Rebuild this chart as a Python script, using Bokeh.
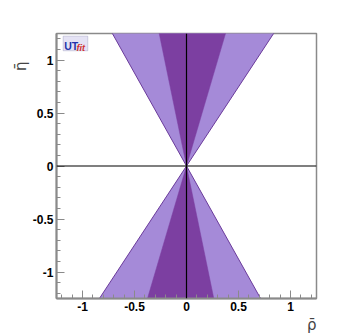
import numpy as np
from bokeh.plotting import figure
from bokeh.models import FixedTicker, Span, Label, BoxAnnotation, ColumnDataSource, Title
from bokeh.embed import file_html
from bokeh.resources import INLINE

# ---- data ----
# wedge boundaries through the origin, expressed as rho/eta ratios
light_ratio = [-0.57, 0.67]
dark_ratio = [-0.21, 0.30]
eta_extent = [2.0, -2.0]          # upper and lower lobes (clipped by plot range)
tick_values = [-1.0, -0.5, 0.0, 0.5, 1.0]
tick_labels = ["-1", "-0.5", "0", "0.5", "1"]
minor_values = [round(-1.2 + 0.1 * i, 1) for i in range(25)]

LIGHT = "#a58ad8"
DARK = "#7c3fa1"
EDGE = "#6a3a9a"
AXIS = "#8a8a8a"


def wedge(ratio):
    xs, ys = [], []
    for e in eta_extent:
        xs.append([0.0, ratio[0] * e, ratio[1] * e])
        ys.append([0.0, e, e])
    return ColumnDataSource(dict(xs=xs, ys=ys))


p = figure(width=343, height=333, x_range=(-1.25, 1.25), y_range=(-1.25, 1.25),
           output_backend="svg", toolbar_location=None,
           min_border_left=56, min_border_right=27, min_border_top=33, min_border_bottom=34)
p.grid.visible = False
p.outline_line_color = AXIS
p.outline_line_width = 1.5
p.background_fill_color = "white"

p.patches("xs", "ys", source=wedge(light_ratio), fill_color=LIGHT, line_color=EDGE, line_width=1)
p.patches("xs", "ys", source=wedge(dark_ratio), fill_color=DARK, line_color=DARK, line_width=0.5)

p.add_layout(Span(location=0, dimension="height", line_color="black", line_width=1.2))
p.add_layout(Span(location=0, dimension="width", line_color="black", line_width=1.2))

for ax in (p.xaxis[0], p.yaxis[0]):
    ax.ticker = FixedTicker(ticks=tick_values, minor_ticks=minor_values)
    ax.major_label_overrides = {v: l for v, l in zip(tick_values, tick_labels)}
    ax.axis_line_color = AXIS
    ax.axis_line_width = 2
    ax.major_tick_line_color = AXIS
    ax.minor_tick_line_color = AXIS
    ax.major_tick_in = 8
    ax.major_tick_out = 0
    ax.minor_tick_in = 4
    ax.minor_tick_out = 0
    ax.major_label_text_font = "Liberation Sans"
    ax.major_label_text_font_style = "bold"
    ax.major_label_text_font_size = "12px"
    ax.major_label_text_color = "black"
    ax.major_label_standoff = 3

# axis titles
p.add_layout(Title(text="ρ̄", align="right", text_font="DejaVu Sans", text_font_size="15px",
                   text_font_style="normal", standoff=0), "below")
p.add_layout(Title(text="η̄", align="right", text_font="DejaVu Sans", text_font_size="15px",
                   text_font_style="normal", standoff=0, offset=28), "left")

# UTfit logo
p.add_layout(BoxAnnotation(left=-1.186, right=-0.949, top=1.225, bottom=1.087,
                           fill_color="#e4e2f4", fill_alpha=1, line_color="#7a7aa8", line_width=1))
p.add_layout(Label(x=-1.176, y=1.131, text="UT", text_font="Liberation Sans", text_font_style="bold",
                   text_font_size="10.5px", text_color="#2233aa", text_baseline="alphabetic"))
p.add_layout(Label(x=-1.058, y=1.112, text="fit", text_font="Liberation Sans",
                   text_font_style="bold italic", text_font_size="9px", text_color="#d03030",
                   text_baseline="alphabetic"))

open("out.html", "w").write(file_html(p, INLINE))
